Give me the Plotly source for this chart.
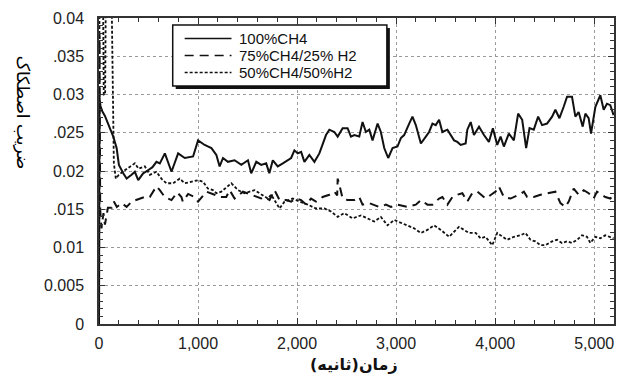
import plotly.graph_objects as go

# ---------------- data ----------------
t_ch4 = [0, 5, 15, 33, 60, 94, 120, 144, 178, 201, 245, 279, 329, 362, 396, 446, 496, 540, 580, 614,
         665, 700, 732, 799, 866, 950, 1000, 1067, 1135, 1185, 1218, 1252, 1302, 1369, 1437, 1504,
         1537, 1588, 1638, 1688, 1720, 1755, 1805, 1856, 1906, 1940, 1973, 2007, 2041, 2074, 2124,
         2175, 2225, 2258, 2292, 2326, 2376, 2410, 2460, 2510, 2544, 2578, 2628, 2661, 2695, 2729,
         2762, 2813, 2846, 2880, 2920, 2964, 3014, 3048, 3081, 3132, 3165, 3199, 3250, 3300, 3333,
         3367, 3400, 3434, 3467, 3518, 3551, 3585, 3618, 3652, 3702, 3719, 3753, 3786, 3837, 3887,
         3937, 3977, 4021, 4055, 4088, 4138, 4189, 4232, 4273, 4313, 4347, 4390, 4434, 4474, 4524,
         4575, 4608, 4649, 4692, 4726, 4776, 4810, 4843, 4884, 4911, 4944, 4968, 5012, 5062, 5096,
         5129, 5163, 5196]
f_ch4 = [0.0, 0.0295, 0.0285, 0.0278, 0.0272, 0.0262, 0.0252, 0.0245, 0.0230, 0.0208, 0.0197, 0.0190,
         0.0195, 0.0199, 0.0188, 0.0197, 0.0201, 0.0205, 0.0212, 0.0210, 0.0223, 0.0210, 0.0199, 0.0223,
         0.0217, 0.0219, 0.0240, 0.0234, 0.0230, 0.0221, 0.0206, 0.0217, 0.0212, 0.0214, 0.0208, 0.0214,
         0.0197, 0.0212, 0.0208, 0.0210, 0.0197, 0.0214, 0.0206, 0.0210, 0.0214, 0.0217, 0.0227, 0.0223,
         0.0225, 0.0212, 0.0221, 0.0212, 0.0223, 0.0236, 0.0247, 0.0254, 0.0251, 0.0245, 0.0256, 0.0256,
         0.0245, 0.0247, 0.0245, 0.0264, 0.0251, 0.0254, 0.0240, 0.0262, 0.0251, 0.0230, 0.0217, 0.0230,
         0.0232, 0.0243, 0.0247, 0.0262, 0.0271, 0.0260, 0.0236, 0.0245, 0.0251, 0.0262, 0.0260, 0.0267,
         0.0251, 0.0254, 0.0247, 0.0240, 0.0238, 0.0234, 0.0236, 0.0254, 0.0264, 0.0247, 0.0258, 0.0247,
         0.0238, 0.0256, 0.0234, 0.0245, 0.0232, 0.0249, 0.0240, 0.0275, 0.0267, 0.0230, 0.0256, 0.0254,
         0.0271, 0.0260, 0.0262, 0.0271, 0.0280, 0.0269, 0.0284, 0.0297, 0.0297, 0.0271, 0.0277, 0.0258,
         0.0275, 0.0269, 0.0249, 0.0284, 0.0299, 0.0280, 0.0288, 0.0286, 0.0273]

t_h25 = [0, 5, 12, 25, 45, 60, 90, 128, 150, 180, 230, 279, 330, 400, 460, 513, 580, 614, 664, 732,
         790, 832, 846, 900, 966, 1000, 1084, 1168, 1218, 1285, 1319, 1369, 1453, 1537, 1638, 1672,
         1722, 1772, 1823, 1890, 1940, 1990, 2041, 2091, 2141, 2191, 2258, 2326, 2376, 2405, 2410,
         2427, 2460, 2510, 2578, 2628, 2661, 2729, 2779, 2830, 2897, 2947, 3014, 3115, 3199, 3250,
         3316, 3367, 3434, 3467, 3518, 3568, 3618, 3669, 3719, 3769, 3820, 3903, 4004, 4037, 4088,
         4156, 4240, 4290, 4323, 4390, 4458, 4541, 4608, 4659, 4709, 4743, 4793, 4843, 4894, 4944,
         4994, 5028, 5112, 5163, 5196]
f_h25 = [0.0, 0.0380, 0.0150, 0.0125, 0.0145, 0.0130, 0.0152, 0.0152, 0.0160, 0.0153, 0.0158, 0.0153,
         0.0160, 0.0163, 0.0166, 0.0166, 0.0180, 0.0175, 0.0166, 0.0162, 0.0172, 0.0166, 0.0160, 0.0170,
         0.0166, 0.0160, 0.0173, 0.0169, 0.0166, 0.0166, 0.0175, 0.0164, 0.0173, 0.0169, 0.0164, 0.0166,
         0.0162, 0.0175, 0.0162, 0.0162, 0.0160, 0.0164, 0.0162, 0.0156, 0.0164, 0.0160, 0.0166, 0.0169,
         0.0173, 0.0168, 0.0190, 0.0182, 0.0164, 0.0162, 0.0162, 0.0166, 0.0156, 0.0158, 0.0156, 0.0153,
         0.0156, 0.0153, 0.0156, 0.0153, 0.0156, 0.0162, 0.0156, 0.0156, 0.0164, 0.0166, 0.0156, 0.0166,
         0.0169, 0.0171, 0.0160, 0.0171, 0.0173, 0.0164, 0.0173, 0.0180, 0.0166, 0.0164, 0.0169, 0.0173,
         0.0166, 0.0166, 0.0169, 0.0171, 0.0173, 0.0158, 0.0153, 0.0160, 0.0177, 0.0169, 0.0175, 0.0171,
         0.0164, 0.0173, 0.0166, 0.0164, 0.0169]

t_h50 = [0, 5, 40, 48, 62, 70, 125, 150, 170, 200, 250, 300, 362, 400, 463, 513, 580, 630, 681, 748,
         815, 866, 933, 1000, 1050, 1100, 1151, 1185, 1235, 1336, 1403, 1470, 1571, 1638, 1705, 1739,
         1823, 1873, 1957, 2024, 2108, 2191, 2275, 2343, 2410, 2477, 2561, 2645, 2712, 2779, 2846,
         2913, 2981, 3048, 3115, 3182, 3250, 3316, 3384, 3451, 3535, 3585, 3635, 3686, 3736, 3803,
         3853, 3903, 3971, 4021, 4071, 4121, 4189, 4256, 4306, 4357, 4407, 4458, 4508, 4575, 4625,
         4675, 4726, 4776, 4827, 4877, 4927, 4961, 5012, 5062, 5112, 5163, 5196]
f_h50 = [0.0, 0.0450, 0.0450, 0.0300, 0.0300, 0.0450, 0.0450, 0.0210, 0.0190, 0.0195, 0.0200, 0.0205,
         0.0210, 0.0203, 0.0206, 0.0195, 0.0199, 0.0190, 0.0184, 0.0184, 0.0190, 0.0184, 0.0186, 0.0188,
         0.0186, 0.0177, 0.0175, 0.0171, 0.0173, 0.0184, 0.0175, 0.0171, 0.0175, 0.0169, 0.0164, 0.0169,
         0.0151, 0.0160, 0.0164, 0.0160, 0.0156, 0.0151, 0.0151, 0.0147, 0.0140, 0.0145, 0.0138, 0.0142,
         0.0138, 0.0134, 0.0140, 0.0129, 0.0136, 0.0132, 0.0129, 0.0125, 0.0119, 0.0123, 0.0129, 0.0123,
         0.0114, 0.0121, 0.0127, 0.0123, 0.0119, 0.0119, 0.0112, 0.0114, 0.0103, 0.0119, 0.0114, 0.0110,
         0.0114, 0.0116, 0.0119, 0.0110, 0.0108, 0.0103, 0.0103, 0.0108, 0.0110, 0.0106, 0.0108, 0.0106,
         0.0110, 0.0116, 0.0114, 0.0106, 0.0114, 0.0112, 0.0116, 0.0114, 0.0112]

series_names = ["100%CH4", "75%CH4/25% H2", "50%CH4/50%H2"]
x_tick_vals = [0, 1000, 2000, 3000, 4000, 5000]
x_tick_text = ["0", "1,000", "2,000", "3,000", "4,000", "5,000"]
y_tick_vals = [0, 0.005, 0.01, 0.015, 0.02, 0.025, 0.03, 0.035, 0.04]
y_tick_text = ["0", "0.005", "0.01", ".015", "0.02", ".025", "0.03", ".035", "0.04"]
x_title = "زمان(ثانیه)"
y_title = "ضریب اصطکاک"

# ---------------- styling ----------------
W, H = 624, 386
L, R, T, B = 99, 8, 18, 62
PW, PH = W - L - R, H - T - B
def px(x):
    return (x - L) / PW
def py(y):
    return (H - B - y) / PH

dashes = ["solid", "9px,6px", "3px,2px"]
widths = [2.0, 2.0, 1.8]
LINE = "#111111"
TICKFONT = dict(family="Liberation Sans, Arial, sans-serif", size=16, color="#222222")

fig = go.Figure()
for (tx, fy), name, dsh, wd in zip([(t_ch4, f_ch4), (t_h25, f_h25), (t_h50, f_h50)],
                                   series_names, dashes, widths):
    fig.add_trace(go.Scatter(x=tx, y=fy, mode="lines", name=name, showlegend=False,
                             line=dict(color=LINE, width=wd, dash=dsh)))

axis_common = dict(
    showline=True, linecolor="#333333", linewidth=1.5, mirror="ticks",
    ticks="inside", ticklen=6, tickcolor="#333333", tickwidth=1,
    showgrid=True, gridcolor="#9a9a9a", griddash="dot", gridwidth=1,
    zeroline=False, tickfont=TICKFONT,
)
fig.update_xaxes(range=[0, 5200], tickmode="array", tickvals=x_tick_vals, ticktext=x_tick_text,
                 minor=dict(tick0=0, dtick=200, ticks="inside", ticklen=4, tickcolor="#333333",
                            showgrid=False),
                 ticklabelstandoff=4, **axis_common)
fig.update_yaxes(range=[0, 0.04], tickmode="array", tickvals=y_tick_vals, ticktext=y_tick_text,
                 minor=dict(tick0=0, dtick=0.001, ticks="inside", ticklen=4, tickcolor="#333333",
                            showgrid=False),
                 ticklabelstandoff=10, **axis_common)

# ---------------- legend box (drawn manually to match tight row spacing) ----------------
shapes = []
bx0, by0, bx1, by1 = 173, 25, 388, 86
shapes.append(dict(type="rect", xref="paper", yref="paper", x0=px(bx0 + 3), x1=px(bx1 + 3),
                   y0=py(by1 + 3), y1=py(by0 + 3), fillcolor="#111111", line=dict(width=0)))
shapes.append(dict(type="rect", xref="paper", yref="paper", x0=px(bx0), x1=px(bx1),
                   y0=py(by1), y1=py(by0), fillcolor="white", line=dict(color="#111111", width=1.5)))
annotations = []
row_y = [38.5, 55.5, 72.5]
for name, dsh, wd, ry in zip(series_names, dashes, widths, row_y):
    shapes.append(dict(type="line", xref="paper", yref="paper", x0=px(185), x1=px(232),
                       y0=py(ry), y1=py(ry), line=dict(color=LINE, width=wd - 0.5, dash=dsh)))
    annotations.append(dict(text=name, xref="paper", yref="paper", x=px(239), y=py(ry),
                            xanchor="left", yanchor="middle", showarrow=False, borderpad=0,
                            font=dict(family="Liberation Sans, Arial, sans-serif", size=15,
                                      color="#111111")))

annotations.append(dict(text="<b>" + x_title + "</b>", xref="paper", yref="paper",
                        x=px(355), y=py(364), xanchor="center", yanchor="middle", showarrow=False,
                        font=dict(family="DejaVu Sans", size=16, color="#111111")))
annotations.append(dict(text=y_title, xref="paper", yref="paper", x=px(23), y=py(113),
                        xanchor="center", yanchor="middle", showarrow=False, textangle=90,
                        font=dict(family="DejaVu Sans", size=17, color="#000000")))

fig.update_layout(
    width=W, height=H, margin=dict(l=L, r=R, t=T, b=B, pad=0),
    paper_bgcolor="white", plot_bgcolor="white",
    shapes=shapes, annotations=annotations, showlegend=False,
)
fig.write_html("out.html")
